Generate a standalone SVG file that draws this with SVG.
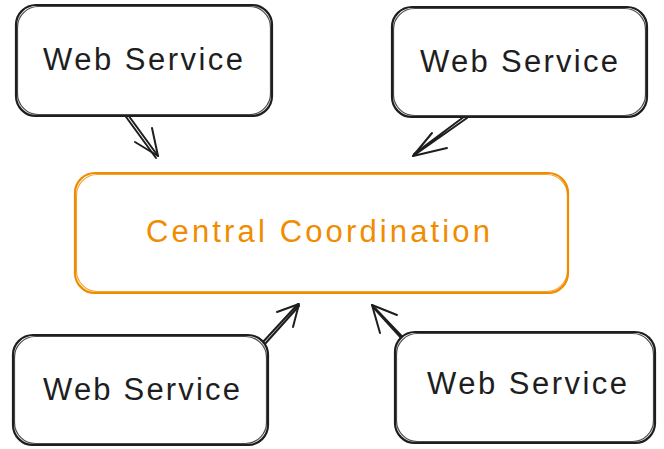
<svg xmlns="http://www.w3.org/2000/svg" width="664" height="449" viewBox="0 0 664 449">
  <style>
    .box { fill: #ffffff; stroke: #1e1e1e; stroke-width: 2.2; stroke-linejoin: round; }
    .box2 { fill: none; stroke: #1e1e1e; stroke-width: 1.2; opacity: 0.8; }
    .hub { fill: #ffffff; stroke: #f08c00; stroke-width: 2.2; }
    .hub2 { fill: none; stroke: #f08c00; stroke-width: 1.1; opacity: 0.8; }
    .lbl { font-family: "Liberation Sans", Arial, sans-serif; font-size: 31px; fill: #1e1e1e; }
    .hublbl { font-family: "Liberation Sans", Arial, sans-serif; font-size: 31px; fill: #f08c00; }
    .wire { fill: none; stroke: #1e1e1e; stroke-width: 2; stroke-linecap: round; stroke-linejoin: round; }
  </style>
  <rect width="664" height="449" fill="#ffffff"/>

  <g id="connectors">
    <!-- top-left service to hub -->
    <path class="wire" d="M123 108 L158 156 M121 110 L156 158"/>
    <path class="wire" d="M135 142 L158 156 L152 128"/>
    <!-- top-right service to hub -->
    <path class="wire" d="M467 118 L413 156 M465 116 L414 154"/>
    <path class="wire" d="M432 133 L413 156 L447 148"/>
    <!-- bottom-left service to hub -->
    <path class="wire" d="M262 343 L298 304 M264 345 L299 306"/>
    <path class="wire" d="M277 312 L299 304 L293 327"/>
    <!-- bottom-right service to hub -->
    <path class="wire" d="M414 349 L372 305 M412 350 L373 307"/>
    <path class="wire" d="M397 315 L372 305 L380 333"/>
  </g>

  <g id="hub">
    <rect class="hub" x="75" y="173" width="493" height="120" rx="20"/>
    <rect class="hub2" x="76.5" y="174.5" width="491" height="117" rx="21"/>
    <text class="hublbl" x="146" y="242" textLength="344" lengthAdjust="spacing">Central Coordination</text>
  </g>

  <g id="service-top-left">
    <rect class="box" x="16" y="5" width="256" height="111" rx="20"/>
    <rect class="box2" x="17.5" y="6.5" width="253" height="108" rx="21"/>
    <text class="lbl" x="43" y="70" textLength="200" lengthAdjust="spacing">Web Service</text>
  </g>

  <g id="service-top-right">
    <rect class="box" x="392" y="7" width="255" height="110" rx="20"/>
    <rect class="box2" x="393.5" y="8.5" width="252" height="107" rx="21"/>
    <text class="lbl" x="420" y="72" textLength="198" lengthAdjust="spacing">Web Service</text>
  </g>

  <g id="service-bottom-left">
    <rect class="box" x="13" y="335" width="255" height="110" rx="20"/>
    <rect class="box2" x="14.5" y="336.5" width="252" height="107" rx="21"/>
    <text class="lbl" x="43" y="400" textLength="197" lengthAdjust="spacing">Web Service</text>
  </g>

  <g id="service-bottom-right">
    <rect class="box" x="395" y="332" width="260" height="111" rx="20"/>
    <rect class="box2" x="396.5" y="333.5" width="257" height="108" rx="21"/>
    <text class="lbl" x="427" y="394" textLength="200" lengthAdjust="spacing">Web Service</text>
  </g>
</svg>
